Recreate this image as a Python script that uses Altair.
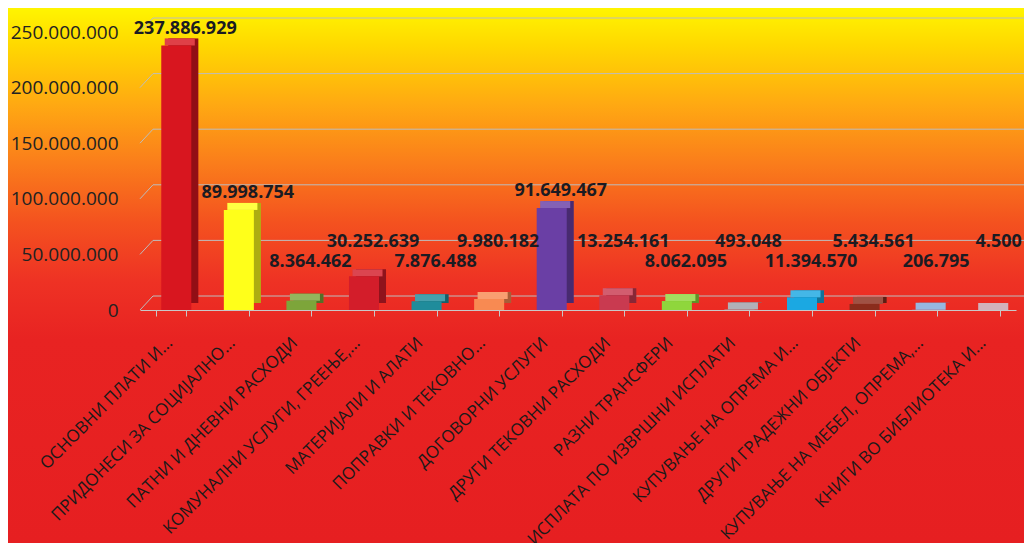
import altair as alt
import pandas as pd

categories = [
    "ОСНОВНИ ПЛАТИ И...",
    "ПРИДОНЕСИ ЗА СОЦИЈАЛНО...",
    "ПАТНИ И ДНЕВНИ РАСХОДИ",
    "КОМУНАЛНИ УСЛУГИ, ГРЕЕЊЕ,...",
    "МАТЕРИЈАЛИ И АЛАТИ",
    "ПОПРАВКИ И ТЕКОВНО...",
    "ДОГОВОРНИ УСЛУГИ",
    "ДРУГИ ТЕКОВНИ РАСХОДИ",
    "РАЗНИ ТРАНСФЕРИ",
    "ИСПЛАТА ПО ИЗВРШНИ ИСПЛАТИ",
    "КУПУВАЊЕ НА ОПРЕМА И...",
    "ДРУГИ ГРАДЕЖНИ ОБЈЕКТИ",
    "КУПУВАЊЕ НА МЕБЕЛ, ОПРЕМА,...",
    "КНИГИ ВО БИБЛИОТЕКА И...",
]
values = [237886929, 89998754, 8364462, 30252639, 7876488, 9980182, 91649467,
          13254161, 8062095, 493048, 11394570, 5434561, 206795, 4500]
bar_colors = ["#D8161F", "#FFFF1A", "#7DA53A", "#D31D2A", "#1F8C9B", "#F88A52",
              "#6A3FA5", "#C93A50", "#8FD63C", "#A0A0A8", "#1BA8E2", "#8A2C1C",
              "#7FA8DA", "#C8A2AC"]
y_ticks = [0, 50000000, 100000000, 150000000, 200000000, 250000000]

W, H = 876, 278
PL, PT, PR, PB = 132, 24, 8, 233
D = 7  # 3D depth in pixels

df = pd.DataFrame({"cat": categories, "value": values, "color": bar_colors,
                   "idx": list(range(len(values)))})
ticks_df = pd.DataFrame({"t": y_ticks})
one = pd.DataFrame({"a": [0]})

ysc = alt.Scale(domain=[0, 250000000], nice=False)
xsc = alt.Scale(domain=categories, paddingInner=0.52, paddingOuter=0.26)

xaxis = alt.Axis(labelAngle=-45, labelAlign="right", labelBaseline="middle",
                 labelFontSize=17, labelFont="Open Sans", labelColor="#1A1A1A",
                 labelPadding=24, labelOffset=-2, tickBand="extent",
                 tickSize=6, tickColor="#C8C8C8", domainColor="#C8C8C8",
                 labelOverlap=False, labelLimit=400, title=None, zindex=2)
yaxis = alt.Axis(values=y_ticks, grid=False, ticks=False, domain=False,
                 labelPadding=22, labelFontSize=19, labelFont="Open Sans",
                 labelColor="#222222", title=None, zindex=2,
                 labelExpr="replace(format(datum.value, ','), /,/g, '.')")

bg = alt.Chart(one).mark_rect(
    color=alt.Gradient(
        gradient="linear", x1=0, x2=0, y1=0, y2=1,
        stops=[
            alt.GradientStop(color="#FFF500", offset=0.0),
            alt.GradientStop(color="#FFD800", offset=0.07),
            alt.GradientStop(color="#FFA912", offset=0.18),
            alt.GradientStop(color="#FA7D1B", offset=0.29),
            alt.GradientStop(color="#F4521F", offset=0.40),
            alt.GradientStop(color="#EE3224", offset=0.51),
            alt.GradientStop(color="#E82322", offset=0.62),
            alt.GradientStop(color="#E61F21", offset=1.0),
        ],
    )
).encode(x=alt.value(-PL), x2=alt.value(W + PR), y=alt.value(-PT), y2=alt.value(H + PB))

xenc = alt.X("cat:N", sort=categories, scale=xsc, axis=xaxis)
yenc = alt.Y("value:Q", scale=ysc, axis=yaxis)
colenc = alt.Color("color:N", scale=None)

grid = alt.Chart(ticks_df).mark_rule(color="#BDBDBD", strokeWidth=1, yOffset=-14, y2Offset=-14).encode(
    y=alt.Y("t:Q", scale=ysc, axis=yaxis), x=alt.value(13), x2=alt.value(W + PR)
)
wall = alt.Chart(ticks_df).mark_rule(color="#BDBDBD", strokeWidth=1, y2Offset=-14).encode(
    y=alt.Y("t:Q", scale=ysc, axis=yaxis), y2="t:Q", x=alt.value(0), x2=alt.value(13)
)

FX = 5  # front face shift
side = alt.Chart(df).mark_bar(xOffset=FX + D, x2Offset=FX + D, yOffset=-D, y2Offset=-D).encode(
    x=xenc, y=yenc, color=colenc
)
side_shade = alt.Chart(df).mark_bar(xOffset=FX + D, x2Offset=FX + D, yOffset=-D, y2Offset=-D,
                                    color="#000000", opacity=0.32).encode(x=xenc, y=yenc)
top = alt.Chart(df).mark_bar(xOffset=FX + D / 2, x2Offset=FX + D / 2, yOffset=-D, y2Offset=0).encode(
    x=xenc, y=yenc, y2="value:Q", color=colenc
)
top_light = alt.Chart(df).mark_bar(xOffset=FX + D / 2, x2Offset=FX + D / 2, yOffset=-D, y2Offset=0,
                                   color="#FFFFFF", opacity=0.18).encode(x=xenc, y=yenc, y2="value:Q")
front = alt.Chart(df).mark_bar(xOffset=FX, x2Offset=FX).encode(x=xenc, y=yenc, color=colenc)

text = alt.Chart(df).transform_calculate(
    ly="datum.value > 50000000 ? datum.value + 15000000 : (datum.idx % 2 == 0 ? 43000000 : 61000000)",
    lbl="replace(format(datum.value, ','), /,/g, '.')"
).mark_text(font="Open Sans", fontWeight="bold", fontSize=18, color="#1B1B22",
            baseline="middle", align="center", dx=14).encode(
    x=xenc, y=alt.Y("ly:Q", scale=ysc, axis=yaxis), text="lbl:N"
)

chart = alt.layer(bg, grid, wall, side, side_shade, top, top_light, front, text).properties(
    width=W, height=H,
    autosize=alt.AutoSizeParams(type="none"),
    padding={"left": PL, "top": PT, "right": PR, "bottom": PB},
).configure_view(strokeWidth=0)

chart.save("out.html", embed_options={"renderer": "svg", "actions": False})
